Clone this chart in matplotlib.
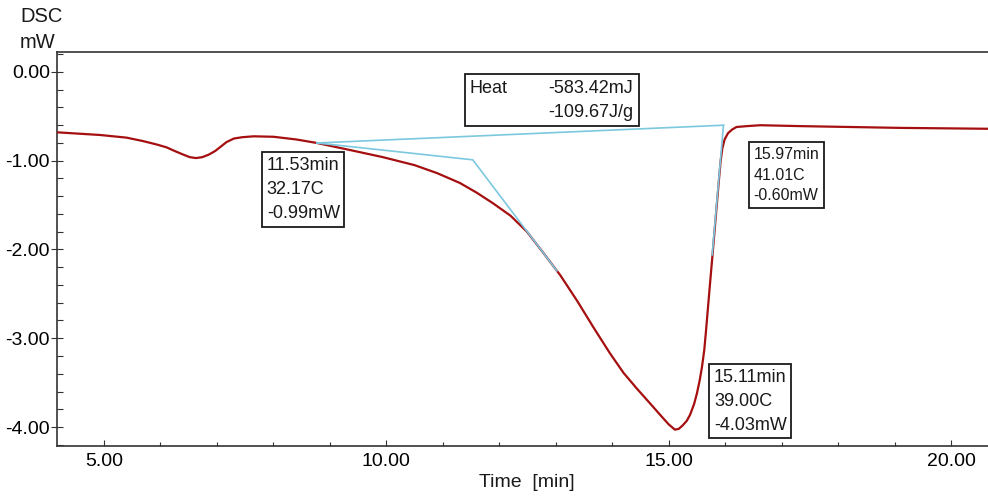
import matplotlib
matplotlib.use("Agg")
import matplotlib.pyplot as plt
from matplotlib.patches import Rectangle
from matplotlib.ticker import MultipleLocator, FormatStrFormatter

plt.rcParams.update({
    "font.family": ["Liberation Sans", "DejaVu Sans"],
    "font.size": 13,
    "text.color": "#1a1a1a",
})

# DSC trace (time in min, heat flow in mW)
time_min = [4.17, 4.93, 5.40, 5.70, 5.95, 6.11, 6.25, 6.40, 6.52, 6.63, 6.74,
            6.86, 6.97, 7.07, 7.17, 7.30, 7.45, 7.65, 8.00, 8.40, 8.77, 9.36,
            9.94, 10.50, 10.90, 11.30, 11.60, 11.89, 12.20, 12.49, 12.77,
            13.08, 13.38, 13.66, 13.96, 14.20, 14.44, 14.72, 14.90, 15.00,
            15.11, 15.18, 15.25, 15.32, 15.38, 15.45, 15.50, 15.55, 15.59,
            15.63, 15.66, 15.72, 15.78, 15.84, 15.89, 15.92, 15.95, 15.99,
            16.05, 16.12, 16.20, 16.39, 16.62, 17.32, 19.10, 20.65]
dsc_mw = [-0.68, -0.71, -0.74, -0.78, -0.82, -0.85, -0.89, -0.93, -0.96, -0.97,
          -0.96, -0.93, -0.89, -0.84, -0.79, -0.75, -0.735, -0.725, -0.73,
          -0.76, -0.80, -0.88, -0.96, -1.05, -1.14, -1.25, -1.36, -1.48, -1.62,
          -1.80, -2.03, -2.29, -2.58, -2.87, -3.17, -3.39, -3.57, -3.77, -3.90,
          -3.97, -4.03, -4.02, -3.98, -3.93, -3.86, -3.74, -3.62, -3.47, -3.32,
          -3.13, -2.92, -2.47, -2.03, -1.58, -1.21, -1.00, -0.86, -0.76,
          -0.69, -0.65, -0.62, -0.61, -0.60, -0.61, -0.63, -0.64]

# integration baseline and onset / endset construction lines
baseline_t = [8.77, 15.97]
baseline_mw = [-0.80, -0.60]
onset_t = [8.77, 11.53, 13.02]
onset_mw = [-0.80, -0.99, -2.24]
endset_t = [15.97, 15.77]
endset_mw = [-0.60, -2.06]

onset_pt = (11.53, -0.99, 32.17)
endset_pt = (15.97, -0.60, 41.01)
peak_pt = (15.11, -4.03, 39.00)
heat_mj = -583.42
heat_jg = -109.67

fig = plt.figure(figsize=(9.88, 4.98), dpi=100)
ax = fig.add_axes([0.0577, 0.1044, 0.9423, 0.7912])

cyan = "#7cc8df"
ax.plot(time_min, dsc_mw, color="#a50f0f", lw=1.6, zorder=3,
        solid_joinstyle="round")
ax.plot(baseline_t, baseline_mw, color=cyan, lw=1.2, zorder=4)
ax.plot(onset_t, onset_mw, color=cyan, lw=1.2, zorder=4)
ax.plot(endset_t, endset_mw, color=cyan, lw=1.2, zorder=4)

ax.set_xlim(4.168, 20.654)
ax.set_ylim(-4.214, 0.225)

for side in ["left", "top", "bottom"]:
    ax.spines[side].set_color("#333333")
    ax.spines[side].set_linewidth(1.2)
ax.spines["right"].set_visible(False)

ax.xaxis.set_major_locator(MultipleLocator(5))
ax.xaxis.set_minor_locator(MultipleLocator(1))
ax.yaxis.set_major_locator(MultipleLocator(1))
ax.yaxis.set_minor_locator(MultipleLocator(0.2))
ax.xaxis.set_major_formatter(FormatStrFormatter("%.2f"))
ax.yaxis.set_major_formatter(FormatStrFormatter("%.2f"))
ax.tick_params(axis="x", which="major", direction="in", length=4, width=0.8,
               color="#333333", labelsize=14, pad=5)
ax.tick_params(axis="x", which="minor", direction="in", length=3, width=0.8,
               color="#333333")
ax.tick_params(axis="y", which="major", direction="inout", length=8, width=0.8,
               color="#333333", labelsize=14, pad=1)
ax.tick_params(axis="y", which="minor", direction="in", length=4, width=0.8,
               color="#333333")

box = dict(boxstyle="square,pad=0.25", facecolor="white", edgecolor="#1a1a1a",
           linewidth=1.3)
box_small = dict(boxstyle="square,pad=0.3", facecolor="white",
                 edgecolor="#1a1a1a", linewidth=1.3)

ax.annotate(f"{onset_pt[0]:.2f}min\n{onset_pt[2]:.2f}C\n{onset_pt[1]:.2f}mW",
            (onset_pt[0], onset_pt[1]), textcoords="offset pixels",
            xytext=(-206, 3), ha="left", va="top", fontsize=13,
            linespacing=1.55, bbox=box, zorder=5)
ax.annotate(f"{endset_pt[0]:.2f}min\n{endset_pt[2]:.2f}C\n{endset_pt[1]:.2f}mW",
            (endset_pt[0], endset_pt[1]), textcoords="offset pixels",
            xytext=(30, -22), ha="left", va="top", fontsize=11.5,
            linespacing=1.45, bbox=box_small, zorder=5)
ax.annotate(f"{peak_pt[0]:.2f}min\n{peak_pt[2]:.2f}C\n{peak_pt[1]:.2f}mW",
            (peak_pt[0], peak_pt[1]), textcoords="offset pixels",
            xytext=(39, 61), ha="left", va="top", fontsize=13,
            linespacing=1.55, bbox=box, zorder=5)

# peak area box
ax.add_patch(Rectangle((11.39, -0.608), 3.08, 0.585, facecolor="white",
                       edgecolor="#1a1a1a", linewidth=1.3, zorder=5))
ax.text(11.48, -0.19, "Heat", ha="left", va="center", fontsize=13, zorder=6)
ax.text(14.37, -0.19, f"{heat_mj:.2f}mJ", ha="right", va="center",
        fontsize=13, zorder=6)
ax.text(14.37, -0.46, f"{heat_jg:.2f}J/g", ha="right", va="center",
        fontsize=13, zorder=6)

fig.text(20 / 988, 1 - 17 / 498, "DSC", ha="left", va="center", fontsize=14.5)
fig.text(20 / 988, 1 - 42 / 498, "mW", ha="left", va="center", fontsize=14.5)
fig.text(527 / 988, 1 - 482 / 498, "Time  [min]", ha="center", va="center",
         fontsize=14)

fig.savefig("out.png", dpi=100)
